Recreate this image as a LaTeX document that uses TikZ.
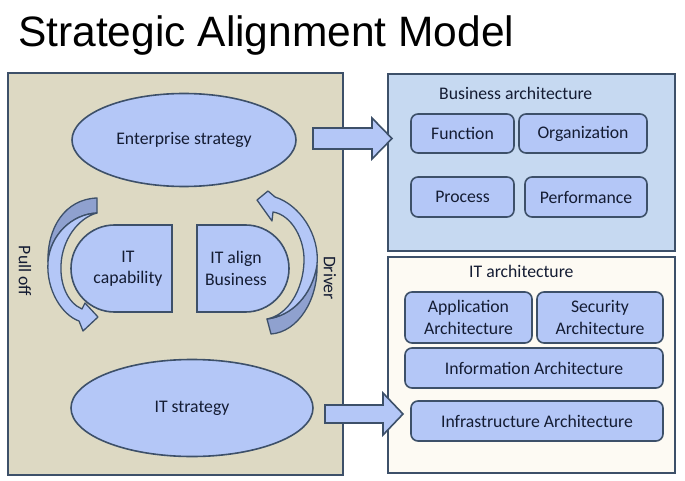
\documentclass[tikz,border=0pt]{standalone}
\usepackage{fontspec}
\setmainfont{Carlito}
\newfontfamily\titlefont{Liberation Sans}
\usetikzlibrary{shapes.geometric}

\definecolor{panelTan}{HTML}{DDD9C3}
\definecolor{panelBlue}{HTML}{C6D9F1}
\definecolor{panelCream}{HTML}{FDFAF3}
\definecolor{shapeFill}{HTML}{B4C7F7}
\definecolor{shapeDark}{HTML}{8FA1CF}
\definecolor{edge}{HTML}{3D5069}
\definecolor{ink}{HTML}{141C33}

\tikzset{
  panel/.style={draw=edge, line width=2pt},
  box/.style={draw=edge, fill=shapeFill, line width=1.6pt, rounded corners=7pt},
  oval/.style={ellipse, draw=edge, fill=shapeFill, line width=1.6pt, inner sep=0pt},
  half/.style={draw=edge, fill=shapeFill, line width=1.6pt},
  swoop/.style={draw=edge, line width=1.3pt, line join=round},
  bigarrow/.style={draw=edge, fill=shapeFill, line width=1.6pt, line join=miter},
}

\begin{document}
\begin{tikzpicture}[x=1pt, y=-1pt, text=ink, font=\fontsize{17.7}{21.2}\selectfont]
\useasboundingbox (0,0) rectangle (685,481);
\node[anchor=base west, inner sep=0pt, text=black, font=\titlefont\fontsize{42.5}{50}\selectfont] (title) at (18,47) {Strategic Alignment Model};
%
\draw[panel, fill=panelTan]   (8,73) rectangle (343,475);
\draw[panel, fill=panelBlue]  (388,74) rectangle (675,251);
\draw[panel, fill=panelCream] (388,257) rectangle (675,473);
% strategy side
\node[oval, minimum width=224pt, minimum height=93pt] (entstrat) at (184,140) {Enterprise strategy};
\node[oval, minimum width=242pt, minimum height=97pt] (itstrat) at (192,408) {IT strategy};
\draw[half] (172,225) -- (114.5,225) arc[start angle=90, end angle=270, radius=43.5pt] -- (172,312) -- cycle;
\draw[half] (197,225) -- (245.5,225) arc[start angle=90, end angle=-90, radius=43.5pt] -- (197,312) -- cycle;
\node[align=center, inner sep=0pt] (itcap) at (128,268.5) {IT\\capability};
\node[align=center, inner sep=0pt] (italign) at (236,268.5) {IT align\\Business};
% curved arrows, back face first
\draw[swoop, fill=shapeDark] (97,198) -- (97,213) .. controls (72,214) and (50,235) .. (48,262) .. controls (47,228) and (65,199) .. (97,198) -- cycle;
\draw[swoop, fill=shapeFill] (97,213) .. controls (72,214) and (50,235) .. (48,262) .. controls (46,290) and (62,315) .. (79,321) -- (83,331) -- (98,317) -- (85,303) -- (82,309) .. controls (68,303) and (60,285) .. (61,265) .. controls (62,240) and (78,218) .. (97,213) -- cycle;
\draw[swoop, fill=shapeDark] (267,319) -- (271,334) .. controls (298,332) and (318,300) .. (317,265) .. controls (312,295) and (292,316) .. (267,319) -- cycle;
\draw[swoop, fill=shapeFill] (267,319) .. controls (292,316) and (312,295) .. (317,265) .. controls (320,235) and (300,205) .. (275,197) -- (268,191) -- (257,200) -- (272,221) -- (273,212) .. controls (292,215) and (305,240) .. (304,262) .. controls (303,290) and (288,315) .. (267,319) -- cycle;
\node[rotate=-90, inner sep=0pt] (pulloff) at (25,271) {Pull off};
\node[rotate=-90, inner sep=0pt] (driver) at (330,278) {Driver};
% block arrows
\draw[bigarrow] (313,128) -- (372,128) -- (372,118) -- (392,138.5) -- (372,159) -- (372,149) -- (313,149) -- cycle;
\draw[bigarrow] (325,405) -- (383,405) -- (383,393) -- (403,414) -- (383,435) -- (383,423) -- (325,423) -- cycle;
% business architecture
\node[anchor=base west, inner sep=0pt] (bizarch) at (439,100) {Business architecture};
\draw[box] (411,114) rectangle (514,153) node[pos=.5] (func) {Function};
\draw[box] (519,114) rectangle (647,153) node[pos=.5] (org) {Organization};
\draw[box] (411,177) rectangle (514,217) node[pos=.5] (proc) {Process};
\draw[box] (525,177) rectangle (647,217) node[pos=.5] (perf) {Performance};
% IT architecture
\node[anchor=base west, inner sep=0pt] (itarch) at (469,277) {IT architecture};
\draw[box] (405,292) rectangle (532,343) node[pos=.5, align=center] (app) {Application\\Architecture};
\draw[box] (537,292) rectangle (663,343) node[pos=.5, align=center] (sec) {Security\\Architecture};
\draw[box] (405,348) rectangle (663,388) node[pos=.5] (info) {Information Architecture};
\draw[box] (411,401) rectangle (663,441) node[pos=.5] (infra) {Infrastructure Architecture};
\end{tikzpicture}
\end{document}
